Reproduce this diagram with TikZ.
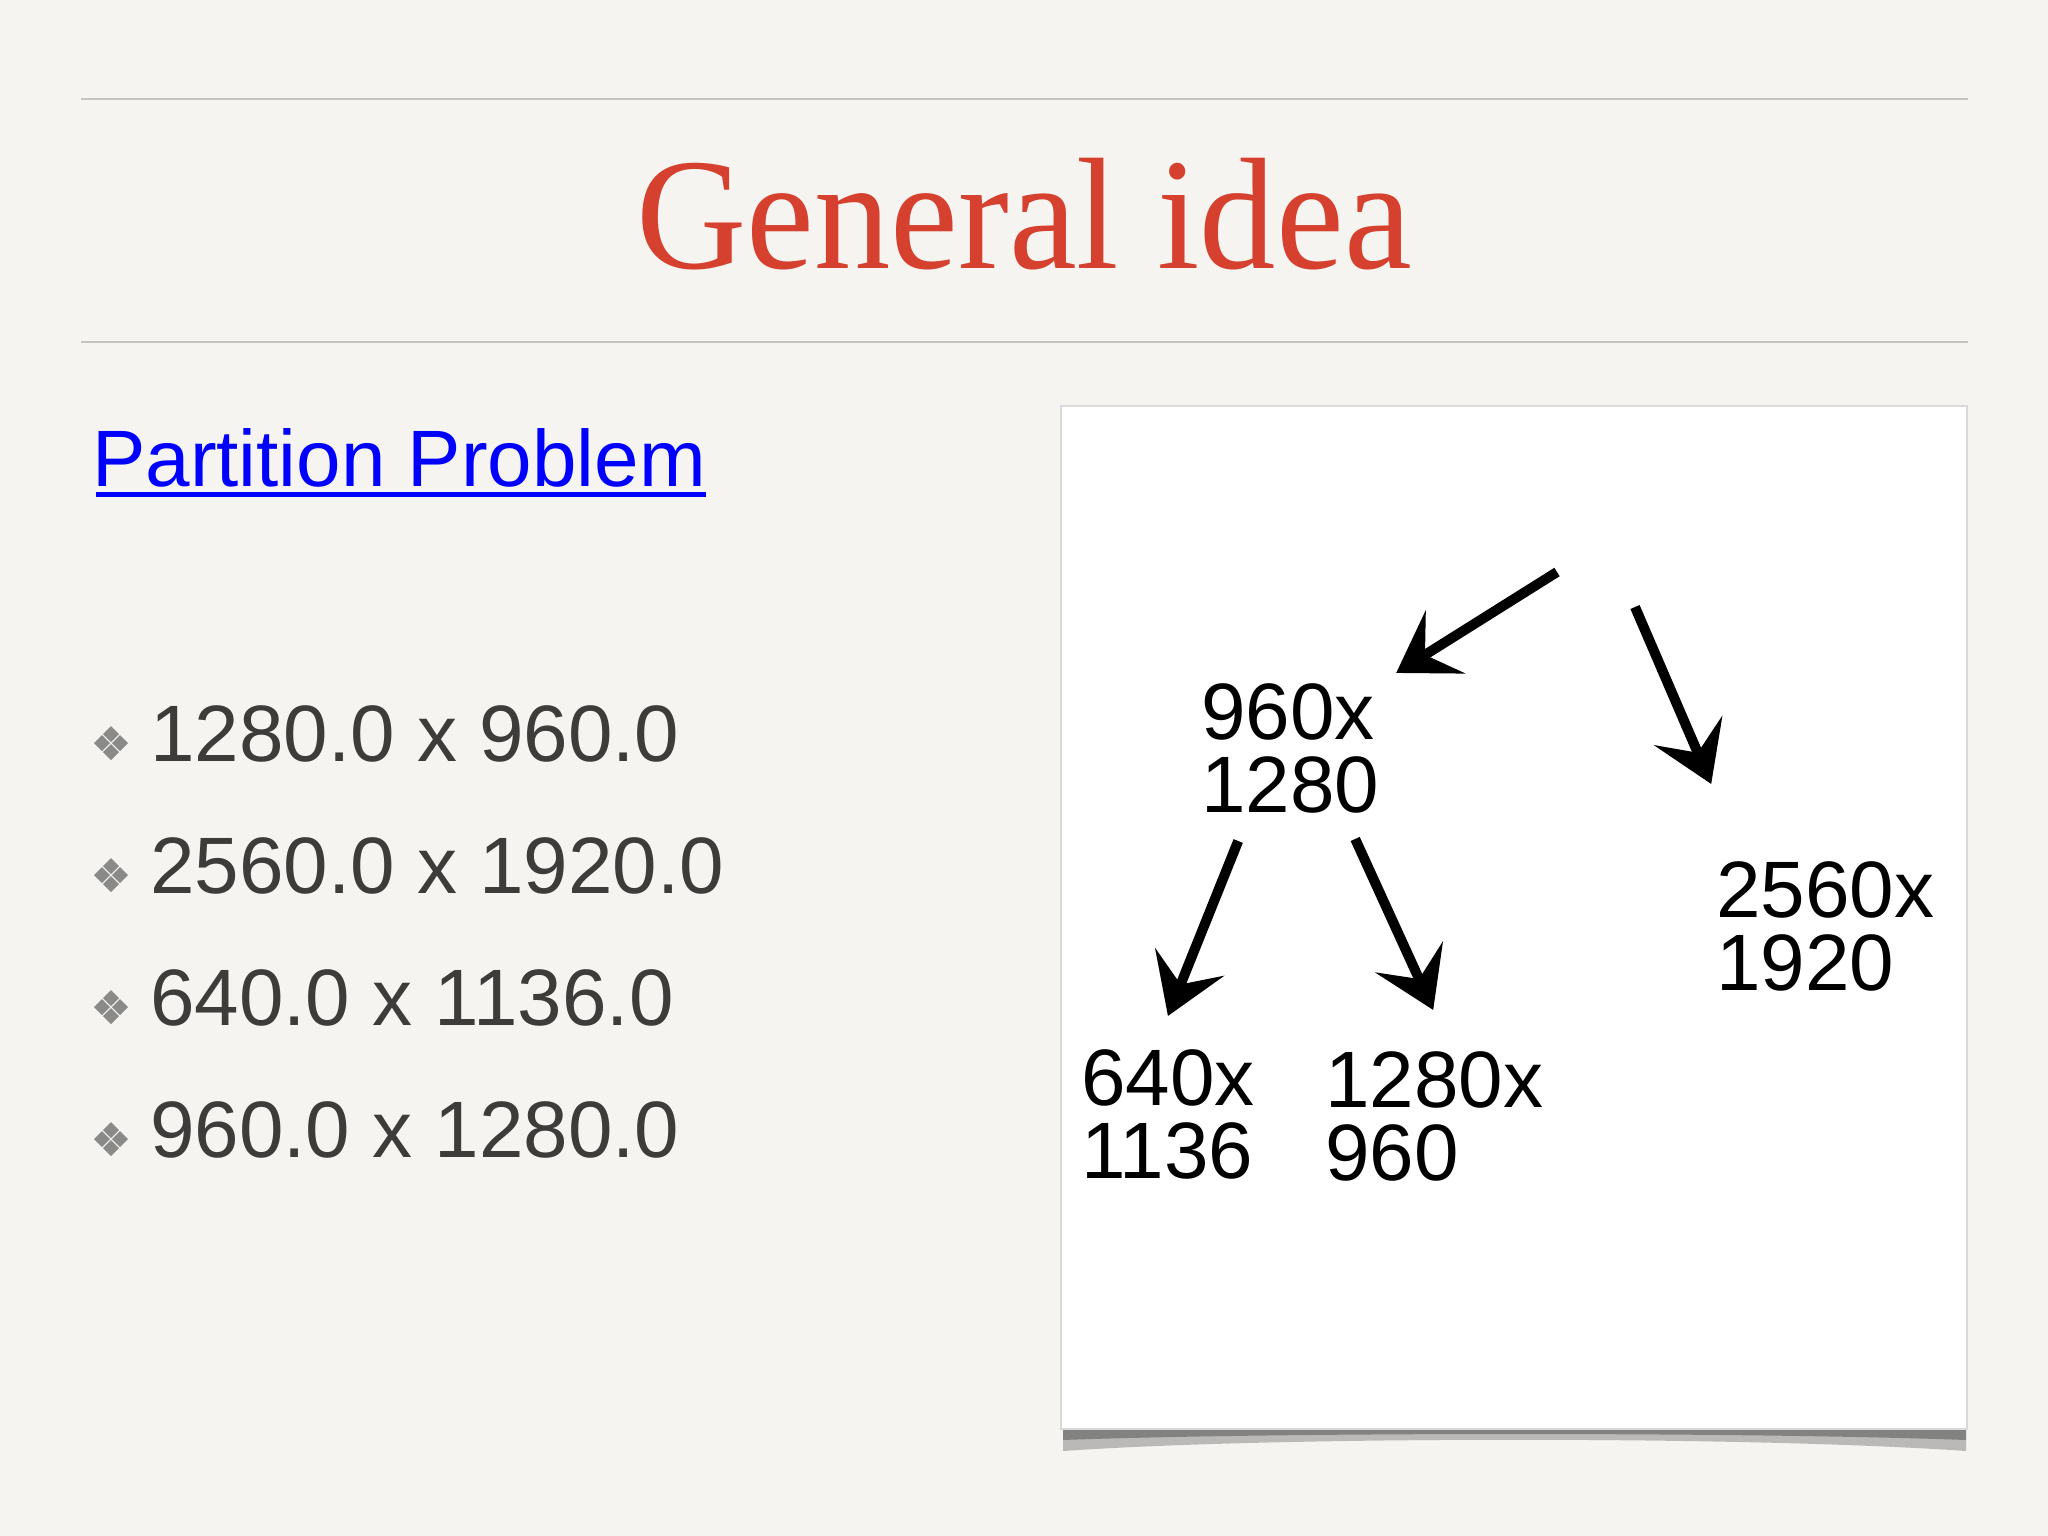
\documentclass[tikz,border=0pt]{standalone}
\usepackage{graphicx}
\usepackage{fontspec}
\setmainfont{Liberation Serif}
\newfontfamily\arialfont{Liberation Sans}
\usetikzlibrary{calc,arrows.meta}

\definecolor{titlered}{RGB}{214,64,46}
\definecolor{bodygray}{RGB}{62,60,58}
\definecolor{bulletgray}{RGB}{138,138,136}
\definecolor{linkblue}{RGB}{0,0,255}
\definecolor{rulegray}{RGB}{198,196,192}
\definecolor{paperlight}{RGB}{246,244,241}
\definecolor{paperdark}{RGB}{234,232,228}

\begin{document}
\begin{tikzpicture}[x=1pt,y=-1pt,
    item/.style={anchor=base west,inner sep=0,text=bodygray,font=\arialfont\fontsize{80}{90}\selectfont},
    size/.style={anchor=base west,inner sep=0,align=left,font=\arialfont\fontsize{80}{73}\selectfont},
    arr/.style={line width=10pt,-{Stealth[length=58pt,width=74pt,inset=24pt]}}]
         \useasboundingbox (0,0) rectangle (2048,1536);
         \shade[top color=paperlight,middle color=paperdark,bottom color=paperlight] (0,0) rectangle (2048,1536);
         % rules and title
         \draw[rulegray, line width=2pt] (81,99) -- (1968,99);
         \draw[rulegray, line width=2pt] (81,342) -- (1968,342);
         \node[anchor=base, inner sep=0, text=titlered, font=\fontsize{159}{160}\selectfont] (title) at (1024,268) {\scalebox{0.96}[1]{General idea}};
         % link
         \node[anchor=base west, inner sep=0, text=linkblue, font=\arialfont\fontsize{80}{90}\selectfont] (link) at (92,486) {Partition Problem};
         \draw[linkblue, line width=5pt] ($(link.base west)+(4,8)$) -- ($(link.base east)+(0,8)$);
         % bullet list
         \foreach \yy/\txt [count=\i] in {761/1280.0 x 960.0, 893/2560.0 x 1920.0, 1025/640.0 x 1136.0, 1157/960.0 x 1280.0} {
           \node[item] (item\i) at (150,\yy) {\txt};
           \foreach \dx/\dy in {0/-9, -9/0, 9/0, 0/9}
             \fill[bulletgray] ($(111,\yy-18)+(\dx,\dy)$) +(0,-8) -- +(8,0) -- +(0,8) -- +(-8,0) -- cycle;
         }
         % photo with curled shadow
         \fill[black!55, opacity=0.45] (1063,1429) -- (1966,1429) -- (1966,1451) .. controls (1750,1436) and (1280,1436) .. (1063,1451) -- cycle;
         \fill[black!70, opacity=0.5] (1063,1429) -- (1966,1429) -- (1966,1440) .. controls (1750,1432) and (1280,1432) .. (1063,1440) -- cycle;
         \fill[white] (1061,406) rectangle (1967,1429);
         \draw[black!15, line width=1.5pt] (1061,406) rectangle (1967,1429);
         % sizes (base = last line)
         \node[size] (n960) at (1201,812) {960x\\1280};
         \node[size] (n2560) at (1716,990) {2560x\\1920};
         \node[size] (n640) at (1081,1178) {640x\\1136};
         \node[size] (n1280) at (1325,1180) {1280x\\960};
         \coordinate (rootA) at (1557,572);
         \coordinate (rootB) at (1635,607);
         \draw[arr] (rootA) -- ($(n960.north)+(106,-10)$);
         \draw[arr] (rootB) -- ($(n2560.north)+(-114,-77)$);
         \draw[arr] ($(n960.south)+(-52,28)$) -- ($(n640.north)+(0,-33)$);
         \draw[arr] ($(n960.south)+(65,26)$) -- ($(n1280.north)+(-1,-41)$);
      \end{tikzpicture}
\end{document}
